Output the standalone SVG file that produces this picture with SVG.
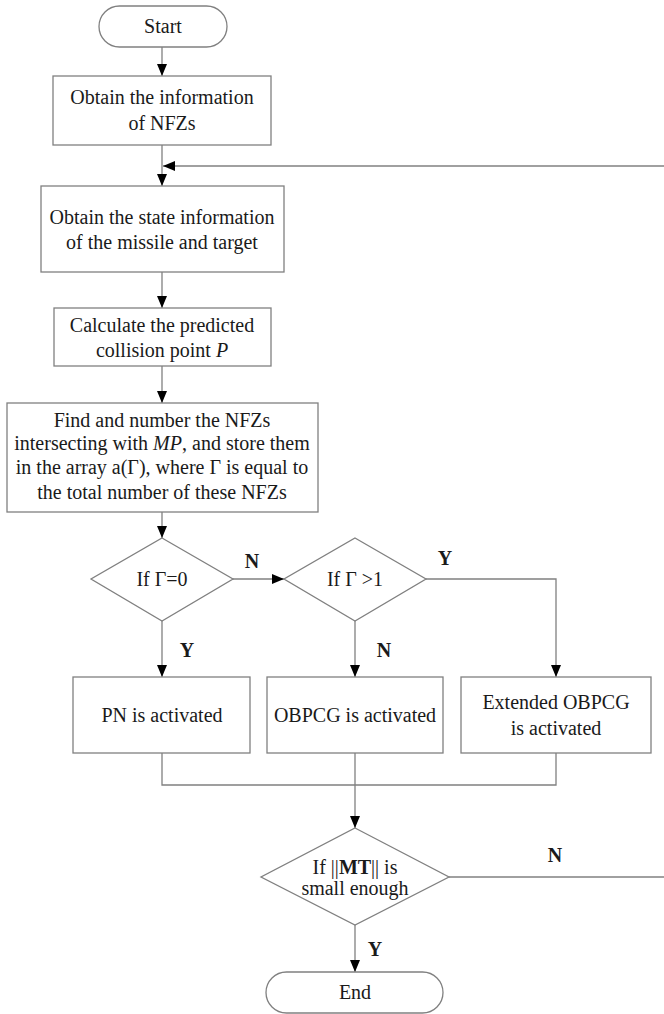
<svg xmlns="http://www.w3.org/2000/svg" width="664" height="1014" viewBox="0 0 664 1014">
<defs>
<marker id="arr" viewBox="0 0 12 10" refX="12" refY="5" markerWidth="12" markerHeight="10" markerUnits="userSpaceOnUse" orient="auto">
<path d="M0,0 L12,5 L0,10 z" fill="#000"/>
</marker>
<style>
.s{fill:#fff;stroke:#808080;stroke-width:1.3}
.c{fill:none;stroke:#808080;stroke-width:1.3}
.t{font-family:"Liberation Serif","Times New Roman",serif;font-size:20px;fill:#1a1a1a;text-anchor:middle}
.l{font-family:"Liberation Serif","Times New Roman",serif;font-size:20px;font-weight:bold;fill:#1a1a1a;text-anchor:middle}
</style>
</defs>
<rect width="664" height="1014" fill="#fff"/>
<g id="connectors">
<line class="c" x1="162" y1="47" x2="162" y2="76" marker-end="url(#arr)"/>
<line class="c" x1="162" y1="145" x2="162" y2="186" marker-end="url(#arr)"/>
<line class="c" x1="664" y1="166" x2="163" y2="166" marker-end="url(#arr)"/>
<line class="c" x1="162" y1="272" x2="162" y2="308" marker-end="url(#arr)"/>
<line class="c" x1="162" y1="366" x2="162" y2="403" marker-end="url(#arr)"/>
<line class="c" x1="162" y1="512" x2="162" y2="538" marker-end="url(#arr)"/>
<line class="c" x1="233" y1="579" x2="284" y2="579" marker-end="url(#arr)"/>
<line class="c" x1="162" y1="621" x2="162" y2="677" marker-end="url(#arr)"/>
<line class="c" x1="355" y1="621" x2="355" y2="677" marker-end="url(#arr)"/>
<polyline class="c" points="426,579 556,579 556,677" marker-end="url(#arr)"/>
<polyline class="c" points="162,753 162,785 556,785 556,753"/>
<line class="c" x1="355" y1="753" x2="355" y2="828" marker-end="url(#arr)"/>
<line class="c" x1="449" y1="877" x2="664" y2="877"/>
<line class="c" x1="355" y1="925" x2="355" y2="972" marker-end="url(#arr)"/>
<text class="l" x="252" y="568">N</text>
<text class="l" x="445" y="565">Y</text>
<text class="l" x="187" y="657">Y</text>
<text class="l" x="384" y="657">N</text>
<text class="l" x="555" y="862">N</text>
<text class="l" x="375" y="956">Y</text>
</g>
<g id="start">
<rect class="s" x="99" y="6" width="128" height="41" rx="20.5"/>
<text class="t" x="163" y="33">Start</text>
</g>
<g id="obtain-nfz">
<rect class="s" x="53" y="76" width="218" height="69"/>
<text class="t" x="162" y="104">Obtain the information</text>
<text class="t" x="162" y="130">of NFZs</text>
</g>
<g id="obtain-state">
<rect class="s" x="41" y="186" width="243" height="86"/>
<text class="t" x="162" y="224">Obtain the state information</text>
<text class="t" x="162" y="249">of the missile and target</text>
</g>
<g id="calc-p">
<rect class="s" x="54" y="308" width="217" height="58"/>
<text class="t" x="162" y="332">Calculate the predicted</text>
<text class="t" x="162" y="357">collision point <tspan font-style="italic">P</tspan></text>
</g>
<g id="find-nfz">
<rect class="s" x="7" y="403" width="311" height="109"/>
<text class="t" x="162" y="427">Find and number the NFZs</text>
<text class="t" x="162" y="450">intersecting with <tspan font-style="italic">MP</tspan>,  and store them</text>
<text class="t" x="162" y="474">in the array a(Γ), where Γ is equal  to</text>
<text class="t" x="162" y="499">the total number of these NFZs</text>
</g>
<g id="if-zero">
<polygon class="s" points="162,538 233,579 162,621 91,579"/>
<text class="t" x="162" y="586">If  Γ=0</text>
</g>
<g id="if-gt1">
<polygon class="s" points="355,538 426,579 355,621 284,579"/>
<text class="t" x="355" y="586">If  Γ &gt;1</text>
</g>
<g id="pn">
<rect class="s" x="73" y="677" width="177" height="76"/>
<text class="t" x="162" y="722">PN is activated</text>
</g>
<g id="obpcg">
<rect class="s" x="267" y="677" width="176" height="76"/>
<text class="t" x="355" y="722">OBPCG is activated</text>
</g>
<g id="ext-obpcg">
<rect class="s" x="461" y="677" width="190" height="76"/>
<text class="t" x="556" y="709">Extended OBPCG</text>
<text class="t" x="556" y="735">is activated</text>
</g>
<g id="if-mt">
<polygon class="s" points="355,828 449,877 355,925 261,877"/>
<text class="t" x="355" y="874">If ||<tspan font-weight="bold">MT</tspan>|| is</text>
<text class="t" x="355" y="895">small enough</text>
</g>
<g id="end">
<rect class="s" x="266" y="972" width="177" height="41" rx="20.5"/>
<text class="t" x="355" y="999">End</text>
</g>
</svg>
